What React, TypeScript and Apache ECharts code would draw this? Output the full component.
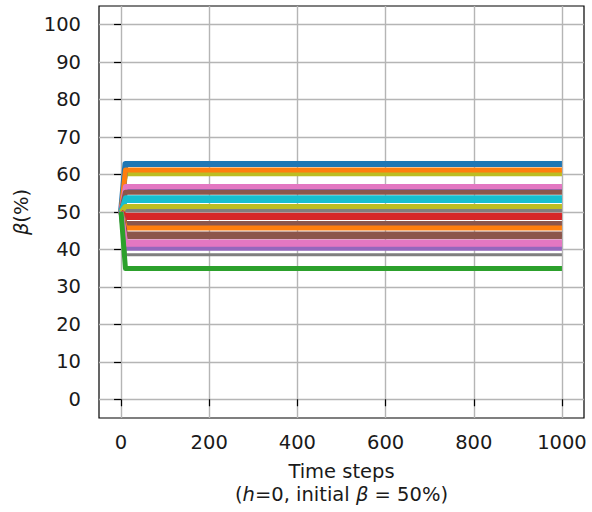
import React, { useEffect, useRef } from "react";
import * as echarts from "echarts";

const xTicks = [0, 200, 400, 600, 800, 1000];
const yTicks = [0, 10, 20, 30, 40, 50, 60, 70, 80, 90, 100];
const initialBeta = 50;
const settleStep = 10;
const lastStep = 1000;

const finalLevels = [60.2, 62.8, 61.2, 56.2, 56.8, 55.3, 53.8, 53.1, 50.4, 51.5, 49.1, 48.5, 46.9, 45.7, 44.1, 43.4, 40.3, 42.0, 41.4, 38.6, 34.9];
const lineColors = ["#bcbd22", "#1f77b4", "#ff7f0e", "#9467bd", "#e377c2", "#8c564b", "#17becf", "#17becf", "#7f7f7f", "#bcbd22", "#d62728", "#d62728", "#8c564b", "#ff7f0e", "#8c564b", "#8c564b", "#9467bd", "#e377c2", "#e377c2", "#7f7f7f", "#2ca02c"];
const lineWidths = [5, 6, 5, 5, 5, 5, 5, 5, 3, 5, 5, 5, 5, 5, 5, 5, 5, 5, 5, 3, 5];

const FONT = "DejaVu Sans";
const TXT = "#1a1a1a";
const FS = 19.5;

export default function App() {
  const ref = useRef<HTMLDivElement>(null);
  useEffect(() => {
    if (!ref.current) return;
    const chart = echarts.init(ref.current, undefined, { renderer: "svg" });
    const series = finalLevels.map((v, i) => ({
      type: "line",
      data: [
        [0, initialBeta],
        [settleStep, v],
        [lastStep, v],
      ],
      showSymbol: false,
      symbol: "none",
      lineStyle: { color: lineColors[i], width: lineWidths[i], join: "round", cap: "butt" },
      itemStyle: { color: lineColors[i] },
      z: 2 + i * 0.01,
    }));
    chart.setOption({
      animation: false,
      backgroundColor: "#fff",
      textStyle: { fontFamily: FONT },
      grid: { left: 99, right: 8, top: 6, bottom: 94, show: true, borderColor: "#000", borderWidth: 1.2, backgroundColor: "transparent" },
      xAxis: {
        type: "value",
        min: -50,
        max: 1050,
        axisLine: { show: false },
        axisTick: { show: true, length: 7, lineStyle: { color: "#000", width: 1.2 }, customValues: xTicks },
        axisLabel: { color: TXT, fontSize: FS, fontFamily: FONT, margin: 14, customValues: xTicks, formatter: (v: number) => String(v) },
        splitLine: { show: true, lineStyle: { color: "#b5b5b5", width: 1.4 }, customValues: xTicks },
        name: "Time steps\n({i|h}=0, initial {i|β} = 50%)",
        nameLocation: "middle",
        nameGap: 42,
        nameTextStyle: {
          color: TXT,
          fontSize: FS,
          fontFamily: FONT,
          lineHeight: 23,
          align: "center",
          rich: { i: { fontStyle: "italic", fontSize: FS, fontFamily: FONT, color: TXT, lineHeight: 23 } },
        },
      },
      yAxis: {
        type: "value",
        min: -5,
        max: 105,
        axisLine: { show: false },
        axisTick: { show: true, length: 7, lineStyle: { color: "#000", width: 1.2 }, customValues: yTicks },
        axisLabel: { color: TXT, fontSize: FS, fontFamily: FONT, margin: 18, customValues: yTicks, formatter: (v: number) => String(v) },
        splitLine: { show: true, lineStyle: { color: "#b5b5b5", width: 1.4 }, customValues: yTicks },
        name: "{i|β}(%)",
        nameLocation: "middle",
        nameGap: 68,
        nameRotate: 90,
        nameTextStyle: {
          color: TXT,
          fontSize: FS,
          fontFamily: FONT,
          rich: { i: { fontStyle: "italic", fontSize: FS, fontFamily: FONT, color: TXT } },
        },
      },
      series,
    });
    return () => chart.dispose();
  }, []);
  return <div ref={ref} style={{ width: 592, height: 512, position: "absolute", left: 0, top: 0 }} />;
}
